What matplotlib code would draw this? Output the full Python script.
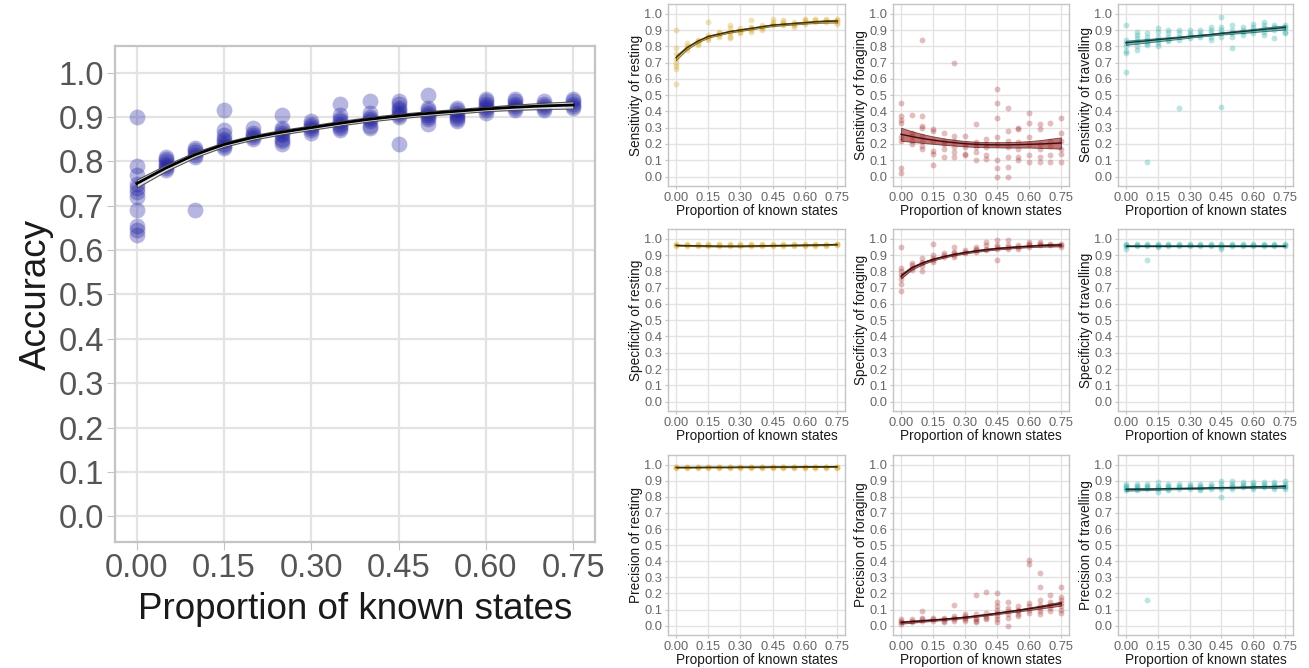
import matplotlib
matplotlib.use('Agg')
import matplotlib.pyplot as plt

plt.rcParams['font.family'] = ['Liberation Sans', 'DejaVu Sans']

# x levels (proportion of known states) and axis ticks
x_levels = [0.00, 0.05, 0.10, 0.15, 0.20, 0.25, 0.30, 0.35,
            0.40, 0.45, 0.50, 0.55, 0.60, 0.65, 0.70, 0.75]
x_ticks = [0.00, 0.15, 0.30, 0.45, 0.60, 0.75]
x_tick_labels = ['0.00', '0.15', '0.30', '0.45', '0.60', '0.75']
y_ticks = [0.0, 0.1, 0.2, 0.3, 0.4, 0.5, 0.6, 0.7, 0.8, 0.9, 1.0]
y_tick_labels = ['0.0', '0.1', '0.2', '0.3', '0.4', '0.5', '0.6', '0.7', '0.8', '0.9', '1.0']

# ---- overall accuracy ----
accuracy_points = [
    [0.90, 0.79, 0.77, 0.75, 0.74, 0.73, 0.72, 0.69, 0.655, 0.645, 0.635],
    [0.81, 0.805, 0.80, 0.795, 0.79, 0.785, 0.78],
    [0.83, 0.825, 0.82, 0.815, 0.81, 0.69],
    [0.915, 0.87, 0.86, 0.85, 0.845, 0.84, 0.835, 0.83],
    [0.875, 0.865, 0.86, 0.855, 0.85],
    [0.905, 0.875, 0.87, 0.865, 0.86, 0.85, 0.845, 0.84],
    [0.89, 0.885, 0.88, 0.875, 0.87, 0.865],
    [0.93, 0.905, 0.895, 0.89, 0.885, 0.88, 0.875, 0.87],
    [0.935, 0.91, 0.90, 0.895, 0.89, 0.88, 0.875],
    [0.935, 0.93, 0.92, 0.915, 0.91, 0.905, 0.90, 0.84],
    [0.95, 0.92, 0.915, 0.91, 0.905, 0.90, 0.895, 0.885],
    [0.92, 0.915, 0.91, 0.905, 0.90, 0.895, 0.89],
    [0.94, 0.935, 0.93, 0.925, 0.92, 0.915, 0.91],
    [0.94, 0.935, 0.93, 0.925, 0.92, 0.915],
    [0.935, 0.93, 0.925, 0.92, 0.915],
    [0.94, 0.935, 0.93, 0.925, 0.92],
]
accuracy_fit = [0.75, 0.785, 0.815, 0.838, 0.854, 0.866, 0.876, 0.886, 0.895,
                0.902, 0.908, 0.913, 0.918, 0.922, 0.925, 0.927]
accuracy_band = [0.009, 0.007, 0.006, 0.005, 0.005, 0.005, 0.005, 0.005,
                 0.005, 0.005, 0.005, 0.005, 0.005, 0.006, 0.007, 0.008]

# ---- sensitivity ----
sens_rest_points = [
    [0.90, 0.79, 0.75, 0.72, 0.70, 0.68, 0.66, 0.57],
    [0.82, 0.80, 0.79, 0.78],
    [0.84, 0.83, 0.82, 0.81],
    [0.95, 0.87, 0.86, 0.85, 0.84],
    [0.89, 0.88, 0.87, 0.86],
    [0.93, 0.91, 0.89, 0.88, 0.86, 0.85],
    [0.91, 0.90, 0.89, 0.88],
    [0.96, 0.92, 0.91, 0.90, 0.89],
    [0.93, 0.92, 0.91, 0.90],
    [0.97, 0.95, 0.94, 0.93],
    [0.96, 0.95, 0.94, 0.93],
    [0.95, 0.94, 0.93, 0.92],
    [0.97, 0.96, 0.95, 0.94],
    [0.97, 0.96, 0.95],
    [0.97, 0.96, 0.95],
    [0.97, 0.96, 0.95, 0.94],
]
sens_rest_fit = [0.73, 0.79, 0.83, 0.86, 0.875, 0.89, 0.90, 0.91, 0.92,
                 0.93, 0.935, 0.94, 0.945, 0.95, 0.953, 0.955]
sens_rest_band = [0.015, 0.01, 0.008, 0.007, 0.006, 0.006, 0.006, 0.006,
                  0.006, 0.006, 0.006, 0.006, 0.006, 0.007, 0.008, 0.009]

sens_forage_points = [
    [0.45, 0.37, 0.35, 0.33, 0.24, 0.22, 0.05, 0.02],
    [0.38, 0.27, 0.25, 0.22, 0.20],
    [0.84, 0.37, 0.31, 0.30, 0.25, 0.22, 0.19, 0.17],
    [0.29, 0.28, 0.22, 0.16, 0.14, 0.07],
    [0.27, 0.22, 0.20, 0.17, 0.12],
    [0.70, 0.25, 0.22, 0.18, 0.15, 0.12],
    [0.25, 0.20, 0.18, 0.14, 0.13],
    [0.32, 0.21, 0.20, 0.18, 0.15, 0.10],
    [0.23, 0.20, 0.18, 0.13, 0.11],
    [0.54, 0.45, 0.36, 0.24, 0.20, 0.10, 0.05, 0.00],
    [0.42, 0.28, 0.22, 0.18, 0.12, 0.06, 0.00],
    [0.30, 0.29, 0.21, 0.17, 0.12, 0.10],
    [0.39, 0.33, 0.24, 0.20, 0.13, 0.09],
    [0.32, 0.29, 0.20, 0.17, 0.12, 0.09],
    [0.33, 0.22, 0.19, 0.13, 0.09],
    [0.36, 0.27, 0.22, 0.17, 0.14, 0.09],
]
sens_forage_fit = [0.26, 0.246, 0.234, 0.224, 0.215, 0.208, 0.202, 0.198,
                   0.196, 0.195, 0.195, 0.196, 0.198, 0.20, 0.203, 0.206]
sens_forage_band = [0.04, 0.033, 0.027, 0.023, 0.02, 0.018, 0.017, 0.016,
                    0.016, 0.016, 0.017, 0.018, 0.02, 0.024, 0.029, 0.035]

sens_travel_points = [
    [0.93, 0.84, 0.82, 0.80, 0.77, 0.76, 0.64],
    [0.89, 0.87, 0.85, 0.83, 0.80, 0.78],
    [0.88, 0.86, 0.84, 0.82, 0.81, 0.09],
    [0.91, 0.89, 0.86, 0.84, 0.82, 0.80],
    [0.90, 0.88, 0.86, 0.84, 0.83],
    [0.90, 0.88, 0.86, 0.84, 0.42],
    [0.90, 0.88, 0.87, 0.85],
    [0.90, 0.88, 0.87, 0.86],
    [0.92, 0.90, 0.88, 0.86, 0.84],
    [0.98, 0.92, 0.90, 0.88, 0.86, 0.43],
    [0.93, 0.90, 0.88, 0.86, 0.79],
    [0.92, 0.90, 0.89, 0.87],
    [0.94, 0.92, 0.90, 0.88],
    [0.95, 0.93, 0.91, 0.89, 0.87],
    [0.93, 0.92, 0.90, 0.85],
    [0.93, 0.92, 0.91, 0.89, 0.88],
]
sens_travel_fit = [0.822, 0.828, 0.834, 0.841, 0.847, 0.853, 0.860, 0.866,
                   0.872, 0.879, 0.885, 0.891, 0.897, 0.904, 0.910, 0.916]
sens_travel_band = [0.013, 0.012, 0.011, 0.01, 0.009, 0.008, 0.007, 0.006,
                    0.006, 0.007, 0.008, 0.009, 0.01, 0.011, 0.012, 0.013]

# ---- specificity ----
spec_rest_points = [[0.965, 0.96, 0.955]] * 15 + [[0.97, 0.965, 0.96]]
spec_rest_fit = [0.96, 0.958, 0.957, 0.956, 0.955, 0.955, 0.955, 0.956,
                 0.957, 0.958, 0.959, 0.96, 0.961, 0.962, 0.963, 0.965]
spec_rest_band = [0.003] * 16

spec_forage_points = [
    [0.95, 0.82, 0.80, 0.78, 0.75, 0.72, 0.68],
    [0.85, 0.84, 0.82, 0.81],
    [0.88, 0.86, 0.85, 0.83, 0.80],
    [0.97, 0.90, 0.88, 0.87, 0.86],
    [0.91, 0.90, 0.89],
    [0.95, 0.92, 0.91, 0.90, 0.89],
    [0.93, 0.92, 0.91],
    [0.95, 0.94, 0.93, 0.92],
    [0.98, 0.96, 0.94, 0.93],
    [0.99, 0.96, 0.95, 0.94, 0.87],
    [0.99, 0.96, 0.95, 0.94],
    [0.96, 0.95, 0.94],
    [0.98, 0.97, 0.96, 0.95],
    [0.98, 0.97, 0.96],
    [0.97, 0.96],
    [0.97, 0.96, 0.95],
]
spec_forage_fit = [0.77, 0.82, 0.85, 0.873, 0.89, 0.904, 0.915, 0.925,
                   0.933, 0.94, 0.945, 0.95, 0.954, 0.958, 0.96, 0.962]
spec_forage_band = [0.015, 0.01, 0.008, 0.007, 0.006, 0.006, 0.006, 0.006,
                    0.006, 0.006, 0.006, 0.006, 0.006, 0.007, 0.008, 0.009]

spec_travel_points = [
    [0.965, 0.96, 0.955, 0.94], [0.965, 0.96, 0.955], [0.965, 0.96, 0.955, 0.87],
    [0.965, 0.96, 0.955, 0.95], [0.965, 0.96, 0.955], [0.965, 0.96, 0.955],
    [0.965, 0.96, 0.955], [0.965, 0.96, 0.955], [0.965, 0.96, 0.955],
    [0.97, 0.96, 0.95, 0.935], [0.965, 0.96, 0.955], [0.965, 0.96, 0.955],
    [0.965, 0.96, 0.955], [0.965, 0.96, 0.955], [0.965, 0.96, 0.955],
    [0.965, 0.96, 0.955],
]
spec_travel_fit = [0.958] * 16
spec_travel_band = [0.003] * 16

# ---- precision ----
prec_rest_points = [[0.988, 0.984, 0.98]] * 16
prec_rest_fit = [0.983, 0.983, 0.983, 0.984, 0.984, 0.984, 0.985, 0.985,
                 0.985, 0.986, 0.986, 0.986, 0.987, 0.987, 0.987, 0.988]
prec_rest_band = [0.002] * 16

prec_forage_points = [
    [0.04, 0.03, 0.02, 0.01],
    [0.04, 0.03, 0.02],
    [0.09, 0.05, 0.04, 0.03],
    [0.05, 0.04, 0.03],
    [0.05, 0.04, 0.03, 0.02],
    [0.13, 0.06, 0.05, 0.04, 0.03],
    [0.07, 0.06, 0.05, 0.04, 0.03],
    [0.19, 0.07, 0.05, 0.04, 0.03, 0.02],
    [0.21, 0.08, 0.06, 0.05, 0.04],
    [0.20, 0.15, 0.12, 0.10, 0.08, 0.06, 0.04, 0.02],
    [0.15, 0.11, 0.09, 0.07, 0.05, 0.00],
    [0.12, 0.10, 0.09, 0.07, 0.06],
    [0.41, 0.38, 0.14, 0.12, 0.10, 0.08],
    [0.33, 0.24, 0.16, 0.13, 0.11, 0.09, 0.07],
    [0.19, 0.15, 0.13, 0.11, 0.09],
    [0.24, 0.18, 0.16, 0.14, 0.12, 0.10, 0.08],
]
prec_forage_fit = [0.02, 0.025, 0.03, 0.035, 0.04, 0.046, 0.052, 0.06,
                   0.068, 0.077, 0.086, 0.095, 0.105, 0.115, 0.126, 0.137]
prec_forage_band = [0.008, 0.007, 0.006, 0.006, 0.005, 0.005, 0.005, 0.005,
                    0.005, 0.006, 0.006, 0.007, 0.008, 0.009, 0.011, 0.013]

prec_travel_points = [
    [0.88, 0.87, 0.86, 0.85, 0.84], [0.88, 0.87, 0.86, 0.85, 0.84],
    [0.88, 0.87, 0.86, 0.85, 0.16], [0.89, 0.87, 0.86, 0.85, 0.83],
    [0.88, 0.87, 0.86, 0.85, 0.84], [0.88, 0.87, 0.86, 0.85],
    [0.88, 0.87, 0.86, 0.85], [0.88, 0.87, 0.86, 0.85, 0.84],
    [0.88, 0.87, 0.86, 0.85], [0.90, 0.88, 0.86, 0.85, 0.80],
    [0.90, 0.88, 0.87, 0.86, 0.85], [0.89, 0.88, 0.87, 0.86],
    [0.89, 0.88, 0.87, 0.86, 0.85], [0.89, 0.88, 0.87, 0.86],
    [0.89, 0.88, 0.87, 0.86, 0.85], [0.90, 0.88, 0.87, 0.86, 0.85],
]
prec_travel_fit = [0.846, 0.847, 0.848, 0.849, 0.851, 0.852, 0.853, 0.854,
                   0.856, 0.857, 0.858, 0.859, 0.861, 0.862, 0.863, 0.865]
prec_travel_band = [0.008, 0.007, 0.006, 0.005, 0.005, 0.004, 0.004, 0.004,
                    0.004, 0.004, 0.004, 0.005, 0.005, 0.006, 0.007, 0.008]

# colours
rest_col = '#d4a017'
forage_col = '#a52a2a'
travel_col = '#20aaa5'
acc_col = '#1c1ca0'

W, H = 1309, 668
fig = plt.figure(figsize=(W / 100, H / 100), dpi=100)


def px_axes(left, top, right, bottom):
    return fig.add_axes([left / W, 1 - bottom / H, (right - left) / W, (bottom - top) / H])


def style_axes(ax, tick_size, label_size, ylabel, tick_len, big=False):
    ax.set_xlim(-0.0375, 0.7875)
    ax.set_ylim(-0.058, 1.06)
    ax.set_xticks(x_ticks)
    ax.set_xticklabels(x_tick_labels)
    ax.set_yticks(y_ticks)
    ax.set_yticklabels(y_tick_labels)
    lw = 1.6 if big else 1.0
    ax.grid(True, color='#e3e3e3', linewidth=lw)
    ax.set_axisbelow(True)
    for s in ax.spines.values():
        s.set_color('#c4c4c4')
        s.set_linewidth(lw)
    ax.tick_params(colors='#c4c4c4', labelcolor='#555555' if big else '#666666',
                   labelsize=tick_size, length=tick_len, width=0.8, pad=2 if big else 1.5)
    ax.set_xlabel('Proportion of known states', fontsize=label_size, color='#1a1a1a', labelpad=0)
    ax.set_ylabel(ylabel, fontsize=label_size, color='#1a1a1a', labelpad=1)


def draw_panel(ax, points, fit, band, col, line_col, dot_size, alpha):
    xs, ys = [], []
    for x, vals in zip(x_levels, points):
        xs += [x] * len(vals)
        ys += vals
    ax.scatter(xs, ys, s=dot_size, color=col, alpha=alpha, linewidths=0, zorder=2)
    lo = [f - b for f, b in zip(fit, band)]
    hi = [f + b for f, b in zip(fit, band)]
    ax.fill_between(x_levels, lo, hi, color=col, alpha=0.65, linewidth=0.6,
                    edgecolor=line_col, zorder=3)
    ax.plot(x_levels, fit, color=line_col, linewidth=1.0, zorder=4)


# big accuracy panel
ax0 = px_axes(115, 46, 595, 542)
xs, ys = [], []
for x, vals in zip(x_levels, accuracy_points):
    xs += [x] * len(vals)
    ys += vals
ax0.scatter(xs, ys, s=130, color=acc_col, alpha=0.32, linewidths=0, zorder=2)
lo = [f - b for f, b in zip(accuracy_fit, accuracy_band)]
hi = [f + b for f, b in zip(accuracy_fit, accuracy_band)]
ax0.fill_between(x_levels, lo, hi, color='#e8e8f0', alpha=0.9, edgecolor='#444444',
                 linewidth=0.8, zorder=3)
ax0.plot(x_levels, accuracy_fit, color='black', linewidth=2.0, zorder=4)
style_axes(ax0, 23.5, 26.5, 'Accuracy', 6, big=True)
ax0.xaxis.labelpad = 6
ax0.yaxis.labelpad = 3

# small panels
col_bounds = [(668, 845), (893, 1069), (1118, 1293)]
row_bounds = [(4, 186), (229, 411), (455, 635)]

panels = [
    [(sens_rest_points, sens_rest_fit, sens_rest_band, rest_col, '#3d3000', 'Sensitivity of resting'),
     (sens_forage_points, sens_forage_fit, sens_forage_band, forage_col, '#3a0c0c', 'Sensitivity of foraging'),
     (sens_travel_points, sens_travel_fit, sens_travel_band, travel_col, '#153535', 'Sensitivity of travelling')],
    [(spec_rest_points, spec_rest_fit, spec_rest_band, rest_col, '#3d3000', 'Specificity of resting'),
     (spec_forage_points, spec_forage_fit, spec_forage_band, forage_col, '#3a0c0c', 'Specificity of foraging'),
     (spec_travel_points, spec_travel_fit, spec_travel_band, travel_col, '#153535', 'Specificity of travelling')],
    [(prec_rest_points, prec_rest_fit, prec_rest_band, rest_col, '#3d3000', 'Precision of resting'),
     (prec_forage_points, prec_forage_fit, prec_forage_band, forage_col, '#3a0c0c', 'Precision of foraging'),
     (prec_travel_points, prec_travel_fit, prec_travel_band, travel_col, '#153535', 'Precision of travelling')],
]

for r, row in enumerate(panels):
    for c, (pts, fit, band, col, lcol, ylab) in enumerate(row):
        left, right = col_bounds[c]
        top, bottom = row_bounds[r]
        ax = px_axes(left, top, right, bottom)
        draw_panel(ax, pts, fit, band, col, lcol, 18, 0.3)
        style_axes(ax, 9.3, 9.8, ylab, 2.5)

fig.savefig('out.png', dpi=100)
